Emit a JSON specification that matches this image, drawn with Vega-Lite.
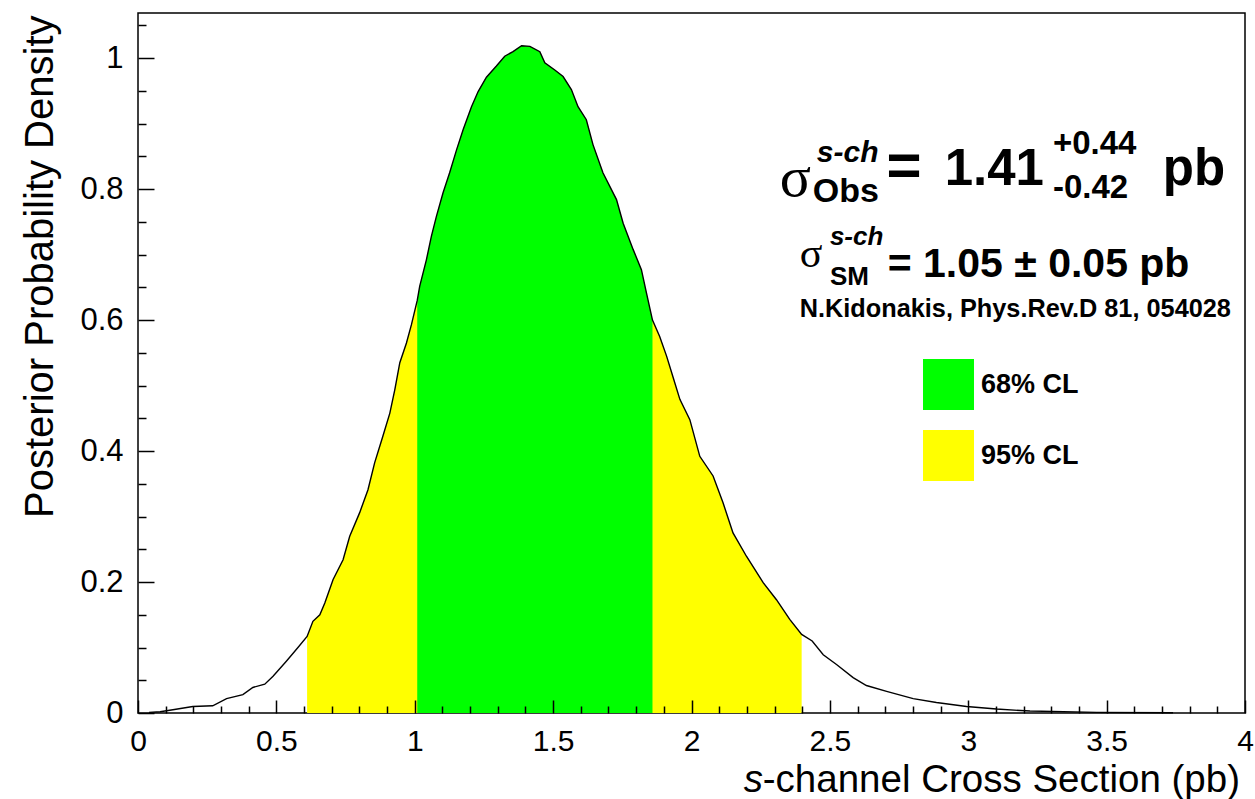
{
  "$schema": "https://vega.github.io/schema/vega-lite/v6.json",
  "width": 1107,
  "height": 700,
  "autosize": {"type": "none"},
  "padding": {"left": 138, "top": 13, "right": 10, "bottom": 86},
  "background": "white",
  "config": {
    "font": "Liberation Sans",
    "view": {"stroke": "#000", "strokeWidth": 1.5},
    "axis": {"grid": false, "domain": false, "labelColor": "#000", "titleColor": "#000"},
    "legend": {
      "orient": "none",
      "legendX": 785,
      "legendY": 346,
      "padding": 0,
      "symbolType": "square",
      "symbolSize": 2600,
      "symbolStrokeWidth": 0,
      "symbolOpacity": 1,
      "labelFont": "Liberation Sans",
      "labelFontWeight": "bold",
      "labelFontSize": 27,
      "labelColor": "#000",
      "labelOffset": 7,
      "rowPadding": 20
    }
  },
  "data": {
    "values": [
      {"x": 0.04, "y": 0.001}, {"x": 0.08, "y": 0.002}, {"x": 0.126, "y": 0.005},
      {"x": 0.198, "y": 0.01}, {"x": 0.27, "y": 0.011}, {"x": 0.32, "y": 0.022},
      {"x": 0.379, "y": 0.028}, {"x": 0.415, "y": 0.039}, {"x": 0.458, "y": 0.044},
      {"x": 0.488, "y": 0.056}, {"x": 0.536, "y": 0.079}, {"x": 0.578, "y": 0.1},
      {"x": 0.611, "y": 0.117}, {"x": 0.632, "y": 0.14}, {"x": 0.657, "y": 0.15},
      {"x": 0.675, "y": 0.168}, {"x": 0.705, "y": 0.204}, {"x": 0.741, "y": 0.234},
      {"x": 0.765, "y": 0.27}, {"x": 0.801, "y": 0.306}, {"x": 0.831, "y": 0.341},
      {"x": 0.855, "y": 0.382}, {"x": 0.885, "y": 0.423}, {"x": 0.91, "y": 0.458},
      {"x": 0.928, "y": 0.494}, {"x": 0.946, "y": 0.535}, {"x": 0.97, "y": 0.565},
      {"x": 0.988, "y": 0.593}, {"x": 1.009, "y": 0.63}, {"x": 1.018, "y": 0.652},
      {"x": 1.042, "y": 0.692}, {"x": 1.06, "y": 0.728}, {"x": 1.078, "y": 0.758},
      {"x": 1.102, "y": 0.794}, {"x": 1.126, "y": 0.825}, {"x": 1.151, "y": 0.86},
      {"x": 1.175, "y": 0.891}, {"x": 1.205, "y": 0.926}, {"x": 1.229, "y": 0.949},
      {"x": 1.259, "y": 0.971}, {"x": 1.295, "y": 0.988}, {"x": 1.325, "y": 1.003},
      {"x": 1.355, "y": 1.01}, {"x": 1.386, "y": 1.019}, {"x": 1.416, "y": 1.018},
      {"x": 1.452, "y": 1.01}, {"x": 1.47, "y": 0.993}, {"x": 1.506, "y": 0.982},
      {"x": 1.536, "y": 0.972}, {"x": 1.566, "y": 0.952}, {"x": 1.59, "y": 0.926},
      {"x": 1.62, "y": 0.906}, {"x": 1.644, "y": 0.868}, {"x": 1.68, "y": 0.825},
      {"x": 1.729, "y": 0.784}, {"x": 1.753, "y": 0.748}, {"x": 1.789, "y": 0.708},
      {"x": 1.819, "y": 0.677}, {"x": 1.837, "y": 0.642}, {"x": 1.859, "y": 0.6},
      {"x": 1.885, "y": 0.575}, {"x": 1.91, "y": 0.545}, {"x": 1.934, "y": 0.512},
      {"x": 1.958, "y": 0.479}, {"x": 1.994, "y": 0.448}, {"x": 2.03, "y": 0.392},
      {"x": 2.078, "y": 0.362}, {"x": 2.114, "y": 0.321}, {"x": 2.15, "y": 0.275},
      {"x": 2.199, "y": 0.239}, {"x": 2.259, "y": 0.199}, {"x": 2.307, "y": 0.173},
      {"x": 2.355, "y": 0.143}, {"x": 2.398, "y": 0.12}, {"x": 2.436, "y": 0.11},
      {"x": 2.476, "y": 0.089}, {"x": 2.524, "y": 0.074}, {"x": 2.584, "y": 0.054},
      {"x": 2.632, "y": 0.042}, {"x": 2.705, "y": 0.033}, {"x": 2.801, "y": 0.022},
      {"x": 2.885, "y": 0.016}, {"x": 2.994, "y": 0.01}, {"x": 3.102, "y": 0.006},
      {"x": 3.223, "y": 0.003}, {"x": 3.464, "y": 0.001}, {"x": 3.74, "y": 0.0003}
    ]
  },
  "resolve": {"axis": {"x": "independent", "y": "independent"}},
  "layer": [
    {
      "transform": [{"filter": "datum.x >= 0.611 && datum.x <= 2.398"}],
      "mark": {"type": "area", "interpolate": "linear"},
      "encoding": {
        "x": {
          "field": "x", "type": "quantitative",
          "scale": {"domain": [0, 4], "nice": false, "zero": false},
          "axis": {
            "orient": "bottom", "values": [0, 0.5, 1, 1.5, 2, 2.5, 3, 3.5, 4], "format": ".1~f",
            "ticks": false, "labelFontSize": 30, "labelPadding": 13.5, "labelFlush": false,
            "labelOverlap": false, "title": null
          }
        },
        "y": {
          "field": "y", "type": "quantitative",
          "scale": {"domain": [0, 1.069], "nice": false},
          "axis": {
            "orient": "left", "values": [0, 0.2, 0.4, 0.6, 0.8, 1], "format": ".1~f",
            "ticks": false, "labelFontSize": 31, "labelPadding": 15, "labelFlush": false,
            "labelOverlap": false,
            "title": "Posterior Probability Density", "titleFontSize": 40, "titleFontWeight": "normal",
            "titleAngle": -90, "titleAlign": "right", "titleBaseline": "alphabetic",
            "titleX": -86, "titleY": 2
          }
        },
        "fill": {
          "datum": "95% CL", "type": "nominal",
          "scale": {"domain": ["68% CL", "95% CL"], "range": ["#00ff00", "#ffff00"]},
          "legend": {"title": null}
        }
      }
    },
    {
      "transform": [{"filter": "datum.x >= 1.009 && datum.x <= 1.859"}],
      "mark": {"type": "area", "interpolate": "linear"},
      "encoding": {
        "x": {
          "field": "x", "type": "quantitative",
          "axis": {
            "orient": "bottom", "values": [0, 0.5, 1, 1.5, 2, 2.5, 3, 3.5, 4],
            "labels": false, "ticks": true, "tickSize": -13, "tickWidth": 1.5, "tickColor": "#000",
            "title": null, "zindex": 1
          }
        },
        "y": {
          "field": "y", "type": "quantitative",
          "axis": {
            "orient": "left", "values": [0, 0.2, 0.4, 0.6, 0.8, 1],
            "labels": false, "ticks": true, "tickSize": -16, "tickWidth": 1.5, "tickColor": "#000",
            "title": null, "zindex": 1
          }
        },
        "fill": {"datum": "68% CL", "type": "nominal"}
      }
    },
    {
      "mark": {"type": "line", "interpolate": "linear", "color": "#000", "strokeWidth": 1.4},
      "encoding": {
        "x": {
          "field": "x", "type": "quantitative",
          "axis": {
            "orient": "bottom",
            "values": [0.1, 0.2, 0.3, 0.4, 0.6, 0.7, 0.8, 0.9, 1.1, 1.2, 1.3, 1.4, 1.6, 1.7, 1.8, 1.9, 2.1, 2.2, 2.3, 2.4, 2.6, 2.7, 2.8, 2.9, 3.1, 3.2, 3.3, 3.4, 3.6, 3.7, 3.8, 3.9],
            "labels": false, "ticks": true, "tickSize": -7, "tickWidth": 1.5, "tickColor": "#000",
            "title": null, "zindex": 1
          }
        },
        "y": {
          "field": "y", "type": "quantitative",
          "axis": {
            "orient": "left",
            "values": [0.05, 0.1, 0.15, 0.25, 0.3, 0.35, 0.45, 0.5, 0.55, 0.65, 0.7, 0.75, 0.85, 0.9, 0.95, 1.05],
            "labels": false, "ticks": true, "tickSize": -8, "tickWidth": 1.5, "tickColor": "#000",
            "title": null, "zindex": 1
          }
        }
      }
    },
    {
      "data": {"values": [{}]},
      "mark": {"type": "text", "text": "σ", "font": "Liberation Serif", "fontSize": 58, "align": "left", "baseline": "alphabetic", "color": "#000"},
      "encoding": {"x": {"datum": 2.319, "type": "quantitative", "axis": null}, "y": {"datum": 0.789, "type": "quantitative", "axis": null}}
    },
    {
      "data": {"values": [{}]},
      "mark": {"type": "text", "text": "s-ch", "fontSize": 30, "fontWeight": "bold", "fontStyle": "italic", "align": "left", "baseline": "alphabetic", "color": "#000"},
      "encoding": {"x": {"datum": 2.453, "type": "quantitative", "axis": null}, "y": {"datum": 0.842, "type": "quantitative", "axis": null}}
    },
    {
      "data": {"values": [{}]},
      "mark": {"type": "text", "text": "Obs", "fontSize": 34, "fontWeight": "bold", "align": "left", "baseline": "alphabetic", "color": "#000"},
      "encoding": {"x": {"datum": 2.438, "type": "quantitative", "axis": null}, "y": {"datum": 0.781, "type": "quantitative", "axis": null}}
    },
    {
      "data": {"values": [{}]},
      "mark": {"type": "text", "text": "=", "fontSize": 60, "fontWeight": "bold", "align": "left", "baseline": "alphabetic", "color": "#000"},
      "encoding": {"x": {"datum": 2.705, "type": "quantitative", "axis": null}, "y": {"datum": 0.807, "type": "quantitative", "axis": null}}
    },
    {
      "data": {"values": [{}]},
      "mark": {"type": "text", "text": "1.41", "fontSize": 51, "fontWeight": "bold", "align": "left", "baseline": "alphabetic", "color": "#000"},
      "encoding": {"x": {"datum": 2.915, "type": "quantitative", "axis": null}, "y": {"datum": 0.807, "type": "quantitative", "axis": null}}
    },
    {
      "data": {"values": [{}]},
      "mark": {"type": "text", "text": "+0.44", "fontSize": 33, "fontWeight": "bold", "align": "left", "baseline": "alphabetic", "color": "#000"},
      "encoding": {"x": {"datum": 3.306, "type": "quantitative", "axis": null}, "y": {"datum": 0.853, "type": "quantitative", "axis": null}}
    },
    {
      "data": {"values": [{}]},
      "mark": {"type": "text", "text": "-0.42", "fontSize": 33, "fontWeight": "bold", "align": "left", "baseline": "alphabetic", "color": "#000"},
      "encoding": {"x": {"datum": 3.306, "type": "quantitative", "axis": null}, "y": {"datum": 0.787, "type": "quantitative", "axis": null}}
    },
    {
      "data": {"values": [{}]},
      "mark": {"type": "text", "text": "pb", "fontSize": 51, "fontWeight": "bold", "align": "left", "baseline": "alphabetic", "color": "#000"},
      "encoding": {"x": {"datum": 3.703, "type": "quantitative", "axis": null}, "y": {"datum": 0.807, "type": "quantitative", "axis": null}}
    },
    {
      "data": {"values": [{}]},
      "mark": {"type": "text", "text": "σ", "font": "Liberation Serif", "fontSize": 42, "align": "left", "baseline": "alphabetic", "color": "#000"},
      "encoding": {"x": {"datum": 2.391, "type": "quantitative", "axis": null}, "y": {"datum": 0.681, "type": "quantitative", "axis": null}}
    },
    {
      "data": {"values": [{}]},
      "mark": {"type": "text", "text": "s-ch", "fontSize": 26, "fontWeight": "bold", "fontStyle": "italic", "align": "left", "baseline": "alphabetic", "color": "#000"},
      "encoding": {"x": {"datum": 2.5, "type": "quantitative", "axis": null}, "y": {"datum": 0.715, "type": "quantitative", "axis": null}}
    },
    {
      "data": {"values": [{}]},
      "mark": {"type": "text", "text": "SM", "fontSize": 26, "fontWeight": "bold", "align": "left", "baseline": "alphabetic", "color": "#000"},
      "encoding": {"x": {"datum": 2.5, "type": "quantitative", "axis": null}, "y": {"datum": 0.654, "type": "quantitative", "axis": null}}
    },
    {
      "data": {"values": [{}]},
      "mark": {"type": "text", "text": "= 1.05 ± 0.05 pb", "fontSize": 41, "fontWeight": "bold", "align": "left", "baseline": "alphabetic", "color": "#000"},
      "encoding": {"x": {"datum": 2.709, "type": "quantitative", "axis": null}, "y": {"datum": 0.666, "type": "quantitative", "axis": null}}
    },
    {
      "data": {"values": [{}]},
      "mark": {"type": "text", "text": "N.Kidonakis, Phys.Rev.D 81, 054028", "fontSize": 25.3, "fontWeight": "bold", "align": "left", "baseline": "alphabetic", "color": "#000"},
      "encoding": {"x": {"datum": 2.391, "type": "quantitative", "axis": null}, "y": {"datum": 0.605, "type": "quantitative", "axis": null}}
    },
    {
      "data": {"values": [{}]},
      "mark": {"type": "text", "text": "-channel Cross Section (pb)", "fontSize": 38.5, "align": "right", "baseline": "alphabetic", "color": "#000", "dx": -5, "dy": 79},
      "encoding": {"x": {"datum": 4, "type": "quantitative", "axis": null}, "y": {"datum": 0, "type": "quantitative", "axis": null}}
    },
    {
      "data": {"values": [{}]},
      "mark": {"type": "text", "text": "s", "fontSize": 38.5, "fontStyle": "italic", "align": "right", "baseline": "alphabetic", "color": "#000", "dx": -482, "dy": 79},
      "encoding": {"x": {"datum": 4, "type": "quantitative", "axis": null}, "y": {"datum": 0, "type": "quantitative", "axis": null}}
    }
  ]
}
